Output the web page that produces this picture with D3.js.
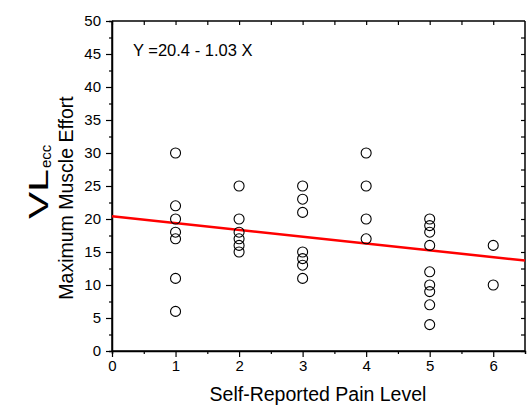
<!DOCTYPE html>
<html>
<head>
<meta charset="utf-8">
<script src="https://cdn.jsdelivr.net/npm/d3@7"></script>
<style>
  body { margin: 0; background: #fff; }
  svg { font-family: Arial, "Liberation Sans", sans-serif; }
</style>
</head>
<body>
<svg width="532" height="407"></svg>
<script>
// DATA
const painLevels = [1, 1, 1, 1, 1, 1, 1,
  2, 2, 2, 2, 2, 2,
  3, 3, 3, 3, 3, 3, 3,
  4, 4, 4, 4,
  5, 5, 5, 5, 5, 5, 5, 5, 5,
  6, 6];
const efforts = [30, 22, 20, 18, 17, 11, 6,
  25, 20, 18, 17, 16, 15,
  25, 23, 21, 15, 14, 13, 11,
  30, 25, 20, 17,
  20, 19, 18, 16, 12, 10, 9, 7, 4,
  16, 10];
const intercept = 20.4;
const slope = -1.03;
const xTicks = [0, 1, 2, 3, 4, 5, 6];
const yTicks = [0, 5, 10, 15, 20, 25, 30, 35, 40, 45, 50];

const svg = d3.select("svg");
const margin = { top: 21, left: 112, right: 7, bottom: 56 };
const width = +svg.attr("width");
const height = +svg.attr("height");

const xScale = d3.scaleLinear().domain([0, 6.5]).range([margin.left, width - margin.right]);
const yScale = d3.scaleLinear().domain([0, 50]).range([height - margin.bottom, margin.top]);

const g = svg.append("g");

// frame axes
const axisFont = "15px";
const bottomAxis = g.append("g").attr("transform", `translate(0,${yScale(0)})`)
  .call(d3.axisBottom(xScale).tickValues(xTicks).tickFormat(d3.format("d")).tickSize(6).tickPadding(3));
const bottomMinor = g.append("g").attr("transform", `translate(0,${yScale(0)})`)
  .call(d3.axisBottom(xScale).tickValues(d3.range(0.5, 6.5, 1)).tickFormat("").tickSize(3));
const leftAxis = g.append("g").attr("transform", `translate(${xScale(0)},0)`)
  .call(d3.axisLeft(yScale).tickValues(yTicks).tickSize(6).tickPadding(5));
const leftMinor = g.append("g").attr("transform", `translate(${xScale(0)},0)`)
  .call(d3.axisLeft(yScale).tickValues(d3.range(2.5, 50, 5)).tickFormat("").tickSize(3));
const topAxis = g.append("g").attr("transform", `translate(0,${yScale(50)})`)
  .call(d3.axisBottom(xScale).tickValues(d3.range(0, 6.5, 0.5)).tickFormat("").tickSize(4));
const rightAxis = g.append("g").attr("transform", `translate(${xScale(6.5)},0)`)
  .call(d3.axisLeft(yScale).tickValues(d3.range(0, 50, 2.5)).tickFormat("").tickSize(4));

[bottomAxis, bottomMinor, leftAxis, leftMinor, topAxis, rightAxis].forEach(a => {
  a.select(".domain").attr("stroke", "#000").attr("stroke-width", 1.5);
  a.selectAll(".tick line").attr("stroke", "#000").attr("stroke-width", 1.2);
  a.selectAll("text").attr("font-size", axisFont).attr("fill", "#000")
    .attr("font-family", "Arial, 'Liberation Sans', sans-serif");
});
topAxis.select(".domain").attr("d", `M${xScale(0)},0H${xScale(6.5)}`);
rightAxis.select(".domain").attr("d", `M0,${yScale(0)}V${yScale(50)}`);
bottomAxis.select(".domain").attr("d", `M${xScale(0)},0H${xScale(6.5)}`);
leftAxis.select(".domain").attr("d", `M0,${yScale(0)}V${yScale(50)}`);

// regression line
g.append("line")
  .attr("x1", xScale(0)).attr("y1", yScale(intercept))
  .attr("x2", xScale(6.5)).attr("y2", yScale(intercept + slope * 6.5))
  .attr("stroke", "#ff0000").attr("stroke-width", 2.5);

// points
g.selectAll("circle.pt").data(painLevels.map((p, i) => ({ x: p, y: efforts[i] })))
  .enter().append("circle")
  .attr("class", "pt")
  .attr("cx", d => xScale(d.x))
  .attr("cy", d => yScale(d.y))
  .attr("r", 5)
  .attr("fill", "none")
  .attr("stroke", "#000")
  .attr("stroke-width", 1.1);

// equation
g.append("text").attr("x", 133).attr("y", 56)
  .attr("font-size", "16.5px").text("Y =20.4 - 1.03 X");

// axis titles
g.append("text").attr("x", 318).attr("y", 401)
  .attr("text-anchor", "middle").attr("font-size", "19.5px")
  .text("Self-Reported Pain Level");

g.append("text").attr("transform", `translate(73,198) rotate(-90)`)
  .attr("text-anchor", "middle").attr("font-size", "19.5px")
  .text("Maximum Muscle Effort");

// big stretched "VL" with subscript
g.append("text").attr("transform", `translate(48,219) rotate(-90)`)
  .attr("font-size", "28px")
  .attr("textLength", 50).attr("lengthAdjust", "spacingAndGlyphs")
  .text("VL");
g.append("text").attr("transform", `translate(51,168) rotate(-90)`)
  .attr("font-size", "15px").text("ecc");
</script>
</body>
</html>
